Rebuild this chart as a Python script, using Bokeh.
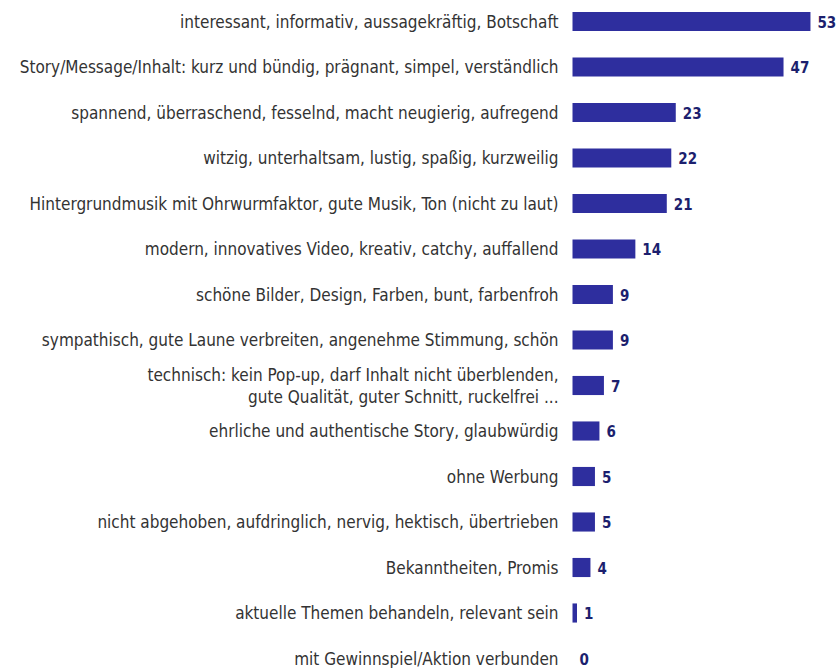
from bokeh.plotting import figure
from bokeh.models import ColumnDataSource, Range1d
from bokeh.core.properties import value
from bokeh.embed import file_html
from bokeh.resources import INLINE

categories = [
    "interessant, informativ, aussagekräftig, Botschaft",
    "Story/Message/Inhalt: kurz und bündig, prägnant, simpel, verständlich",
    "spannend, überraschend, fesselnd, macht neugierig, aufregend",
    "witzig, unterhaltsam, lustig, spaßig, kurzweilig",
    "Hintergrundmusik mit Ohrwurmfaktor, gute Musik, Ton (nicht zu laut)",
    "modern, innovatives Video, kreativ, catchy, auffallend",
    "schöne Bilder, Design, Farben, bunt, farbenfroh",
    "sympathisch, gute Laune verbreiten, angenehme Stimmung, schön",
    "technisch: kein Pop-up, darf Inhalt nicht überblenden,\ngute Qualität, guter Schnitt, ruckelfrei ...",
    "ehrliche und authentische Story, glaubwürdig",
    "ohne Werbung",
    "nicht abgehoben, aufdringlich, nervig, hektisch, übertrieben",
    "Bekanntheiten, Promis",
    "aktuelle Themen behandeln, relevant sein",
    "mit Gewinnspiel/Aktion verbunden",
]
values = [53, 47, 23, 22, 21, 14, 9, 9, 7, 6, 5, 5, 4, 1, 0]

pos = list(range(len(categories)))
src = ColumnDataSource(dict(y=pos, v=values, cat=categories,
                            lbl=[str(v) for v in values]))

W, H = 836, 668
pxu = 4.49
x0 = 572
row = 45.5
top = 21

p = figure(width=W, height=H, output_backend="svg", toolbar_location=None,
           x_range=Range1d(-x0 / pxu, (W - x0) / pxu),
           y_range=Range1d((H - top) / row, -top / row),
           min_border=0, background_fill_color="white",
           border_fill_color="white", outline_line_color=None)
p.axis.visible = False
p.grid.visible = False

p.hbar(y="y", left=0, right="v", height=0.42, source=src,
       fill_color="#2e2e9e", line_color=None)

p.text(x=0, y="y", text="cat", source=src, x_offset=-14,
       text_align="right", text_baseline="middle",
       text_font=value("DejaVu Sans Condensed"), text_font_size="17px",
       text_color="#333333", text_line_height=1.1)

p.text(x="v", y="y", text="lbl", source=src, x_offset=7,
       text_align="left", text_baseline="middle",
       text_font=value("DejaVu Sans Condensed"), text_font_size="15px",
       text_font_style="bold", text_color="#1c1f6e")

open("out.html", "w").write(file_html(p, INLINE))
